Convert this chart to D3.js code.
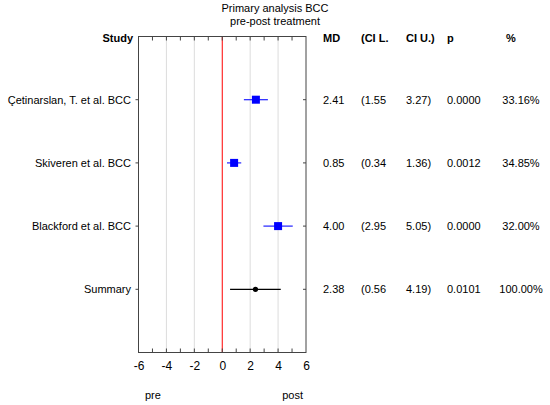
<!DOCTYPE html>
<html>
<head>
<meta charset="utf-8">
<script src="https://cdn.jsdelivr.net/npm/d3@7"></script>
<style>
  body { margin: 0; background: #fff; }
  text { font-family: "Liberation Sans", Arial, sans-serif; font-size: 11px; fill: #000; }
</style>
</head>
<body>
<script>
let width = 550;
let height = 405;

let studies = ["Çetinarslan, T. et al. BCC", "Skiveren et al. BCC", "Blackford et al. BCC", "Summary"];
let md = [2.41, 0.85, 4.00, 2.38];
let ciLow = [1.55, 0.34, 2.95, 0.56];
let ciHigh = [3.27, 1.36, 5.05, 4.19];
let pValues = ["0.0000", "0.0012", "0.0000", "0.0101"];
let weights = ["33.16%", "34.85%", "32.00%", "100.00%"];
let xTicks = [-6, -4, -2, 0, 2, 4, 6];
let gridTicks = [-4, -2, 2, 4];

let svg = d3.select("body").append("svg")
    .attr("width", width)
    .attr("height", height);

let x = d3.scaleLinear().domain([-6, 6]).range([138.5, 306]);
let y = d3.scaleLinear().domain([0, studies.length + 1]).range([36.5, 352.5]);

// Title
svg.append("text").attr("x", 275).attr("y", 12).attr("text-anchor", "middle")
    .text("Primary analysis BCC");
svg.append("text").attr("x", 275).attr("y", 25).attr("text-anchor", "middle")
    .text("pre-post treatment");

// Grid and zero line
svg.selectAll("line.grid")
    .data(gridTicks)
    .enter()
    .append("line")
    .attr("class", "grid")
    .attr("x1", d => x(d)).attr("x2", d => x(d))
    .attr("y1", y(0)).attr("y2", y(studies.length + 1))
    .style("stroke", "#dcdcdc")
    .style("stroke-width", 1);

svg.append("line")
    .attr("x1", x(0)).attr("x2", x(0))
    .attr("y1", y(0)).attr("y2", y(studies.length + 1))
    .style("stroke", "#ff0000")
    .style("stroke-width", 1);

// Frame
svg.append("rect")
    .attr("x", x(-6)).attr("y", y(0))
    .attr("width", x(6) - x(-6))
    .attr("height", y(studies.length + 1) - y(0))
    .style("fill", "none")
    .style("stroke", "#444")
    .style("stroke-width", 1);

// Axis labels (plain hyphen for negatives)
let minorTicks = d3.range(-5, 6);
svg.append("g")
    .attr("transform", "translate(0," + y(studies.length + 1) + ")")
    .call(d3.axisBottom(x).tickValues(xTicks).tickSize(0).tickPadding(9).tickFormat(d => String(d)))
    .call(g => g.select(".domain").remove())
    .call(g => g.selectAll("text").style("font-size", "12px"));

// Inward ticks on top and bottom
svg.selectAll("line.tb")
    .data(minorTicks)
    .enter()
    .append("line")
    .attr("class", "tb")
    .attr("x1", d => x(d)).attr("x2", d => x(d))
    .attr("y1", y(studies.length + 1)).attr("y2", y(studies.length + 1) - 4)
    .style("stroke", "#444");

svg.selectAll("line.tt")
    .data(minorTicks)
    .enter()
    .append("line")
    .attr("class", "tt")
    .attr("x1", d => x(d)).attr("x2", d => x(d))
    .attr("y1", y(0)).attr("y2", y(0) + 4)
    .style("stroke", "#444");

// Row ticks on left and right edges
svg.selectAll("line.tl")
    .data(studies)
    .enter()
    .append("line")
    .attr("class", "tl")
    .attr("x1", x(-6) - 3).attr("x2", x(-6))
    .attr("y1", (d, i) => y(i + 1)).attr("y2", (d, i) => y(i + 1))
    .style("stroke", "#444");

svg.selectAll("line.tr")
    .data(studies)
    .enter()
    .append("line")
    .attr("class", "tr")
    .attr("x1", x(6) - 3).attr("x2", x(6))
    .attr("y1", (d, i) => y(i + 1)).attr("y2", (d, i) => y(i + 1))
    .style("stroke", "#444");

// Headers
let headerY = 42;
svg.append("text").attr("x", 133).attr("y", headerY).attr("text-anchor", "end")
    .style("font-weight", "bold").text("Study");
let headers = [["MD", 323], ["(CI L.", 361], ["CI U.)", 406], ["p", 447], ["%", 506]];
svg.selectAll("text.hdr")
    .data(headers)
    .enter()
    .append("text")
    .attr("class", "hdr")
    .attr("x", d => d[1]).attr("y", headerY)
    .style("font-weight", "bold")
    .text(d => d[0]);

// Row labels and values
let rows = svg.selectAll("g.row")
    .data(studies)
    .enter()
    .append("g")
    .attr("class", "row")
    .attr("transform", (d, i) => "translate(0," + y(i + 1) + ")");

rows.append("text").attr("x", 131).attr("y", 4).attr("text-anchor", "end").text(d => d);
rows.append("text").attr("x", 323).attr("y", 4).text((d, i) => md[i].toFixed(2));
rows.append("text").attr("x", 361).attr("y", 4).text((d, i) => "(" + ciLow[i].toFixed(2));
rows.append("text").attr("x", 406).attr("y", 4).text((d, i) => ciHigh[i].toFixed(2) + ")");
rows.append("text").attr("x", 447).attr("y", 4).text((d, i) => pValues[i]);
rows.append("text").attr("x", 521).attr("y", 4).attr("text-anchor", "middle").text((d, i) => weights[i]);

// CI lines
let last = studies.length - 1;
rows.append("line")
    .attr("x1", (d, i) => x(ciLow[i]))
    .attr("x2", (d, i) => x(ciHigh[i]))
    .attr("y1", 0).attr("y2", 0)
    .style("stroke", (d, i) => i === last ? "#000" : "#2020ff")
    .style("stroke-width", 1.2);

// Markers
rows.filter((d, i) => i !== last)
    .append("rect")
    .attr("x", d => x(md[studies.indexOf(d)]) - 4)
    .attr("y", -4)
    .attr("width", 8).attr("height", 8)
    .style("fill", "#0000ff");

rows.filter((d, i) => i === last)
    .append("circle")
    .attr("cx", x(md[last]))
    .attr("cy", 0)
    .attr("r", 2.6)
    .style("fill", "#000");

// Direction labels
svg.append("text").attr("x", 145).attr("y", 399).text("pre");
svg.append("text").attr("x", 303).attr("y", 399).attr("text-anchor", "end").text("post");
</script>
</body>
</html>
